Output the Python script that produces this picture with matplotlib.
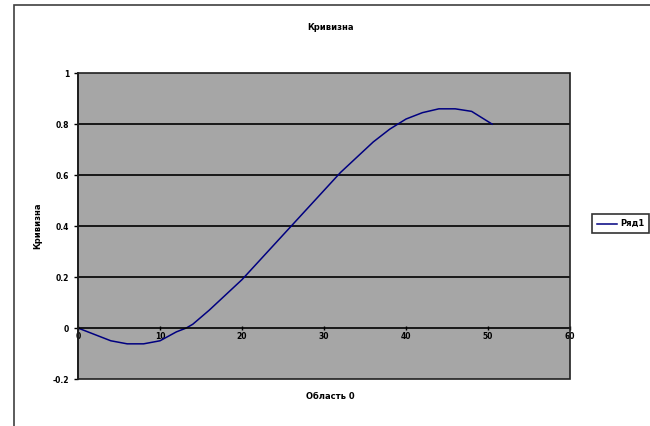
import matplotlib.pyplot as plt
from matplotlib.patches import Rectangle

# Данные кривой
x_vals = [0, 2, 4, 6, 8, 10, 12, 13.2, 14, 16, 18, 20, 22, 24, 26, 28, 30,
          32, 34, 36, 38, 40, 42, 44, 46, 48, 50, 50.5]
y_vals = [0, -0.025, -0.05, -0.062, -0.062, -0.05, -0.015, 0, 0.015, 0.07,
          0.13, 0.19, 0.26, 0.33, 0.40, 0.47, 0.54, 0.61, 0.67, 0.73, 0.78,
          0.82, 0.845, 0.86, 0.86, 0.85, 0.81, 0.80]
x_ticks = [0, 10, 20, 30, 40, 50, 60]
y_ticks = [-0.2, 0, 0.2, 0.4, 0.6, 0.8, 1]
y_labels = ["-0.2", "0", "0.2", "0.4", "0.6", "0.8", "1"]

fig = plt.figure(figsize=(6.5, 4.26), dpi=100)
ax = fig.add_axes([0.12, 0.1103, 0.757, 0.718])
ax.set_facecolor("#a6a6a6")

ax.plot(x_vals, y_vals, color="#000080", lw=1.1, label="Ряд1")

ax.set_xlim(0, 60)
ax.set_ylim(-0.2, 1)
ax.set_yticks(y_ticks)
ax.set_yticklabels(y_labels)
ax.set_xticks(x_ticks)
for y in y_ticks[2:-1]:
    ax.axhline(y, color="black", lw=1.2, zorder=1)

# ось X проходит через ноль
for s in ["top", "right"]:
    ax.spines[s].set_visible(False)
ax.spines["bottom"].set_position(("data", 0))
ax.spines["bottom"].set_linewidth(1.2)
ax.spines["left"].set_linewidth(1.2)
ax.add_patch(Rectangle((0, 0), 1, 1, transform=ax.transAxes, fill=False,
                       edgecolor="#202020", lw=1.2, clip_on=False, zorder=5))

ax.tick_params(axis="both", labelsize=5.5, length=3, width=1, color="black")
ax.tick_params(axis="x", direction="inout", pad=1)
for lab in ax.get_xticklabels() + ax.get_yticklabels():
    lab.set_fontweight("bold")

fig.text(0.508, 0.93, "Кривизна", fontsize=6, fontweight="bold", ha="center")
fig.text(0.508, 0.063, "Область 0", fontsize=6, fontweight="bold", ha="center")
fig.text(0.058, 0.47, "Кривизна", fontsize=6, fontweight="bold",
         rotation=90, va="center", ha="center")

leg = ax.legend(loc="center left", bbox_to_anchor=(1.045, 0.507), fontsize=6,
                frameon=True, fancybox=False, handlelength=2.4,
                borderpad=0.6, handletextpad=0.35, borderaxespad=0)
leg.get_frame().set_edgecolor("black")
leg.get_frame().set_linewidth(1.2)
for t in leg.get_texts():
    t.set_fontweight("bold")

# рамка области диаграммы
fig.add_artist(Rectangle((14 / 650, -0.05), 1.0, 1 - 5 / 426 + 0.05,
                         transform=fig.transFigure, fill=False,
                         edgecolor="#404040", lw=1.2))

fig.savefig("out.png", dpi=100)
